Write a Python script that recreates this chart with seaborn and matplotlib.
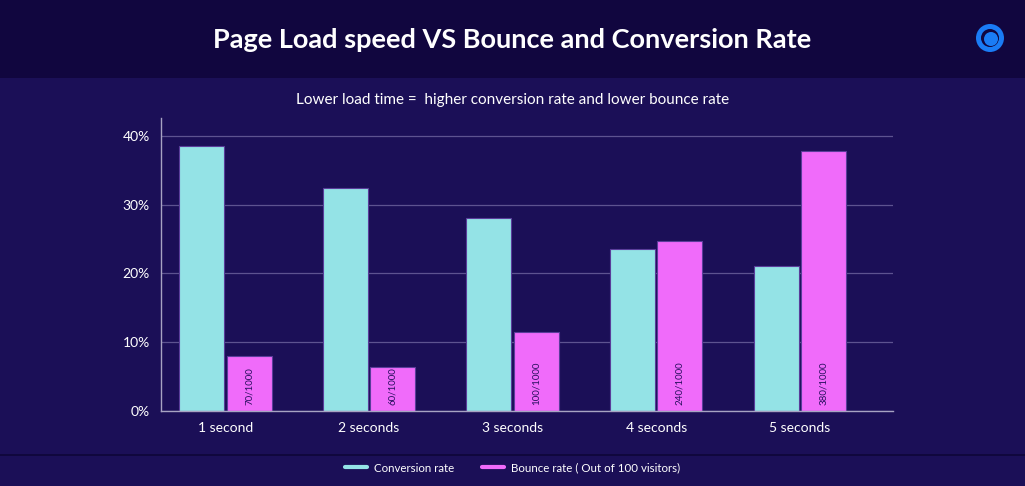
import matplotlib.pyplot as plt
import matplotlib.patches as mpatches
from matplotlib.ticker import PercentFormatter
import pandas as pd
import seaborn as sns

categories = ["1 second", "2 seconds", "3 seconds", "4 seconds", "5 seconds"]
conversion = [38.5, 32.4, 28.1, 23.6, 21.1]
bounce = [8.0, 6.4, 11.5, 24.7, 37.8]
bounce_labels = ["70/1000", "60/1000", "100/1000", "240/1000", "380/1000"]
series = ["Conversion rate", "Bounce rate ( Out of 100 visitors)"]

BG = "#1b0f57"
HEADER = "#11063f"
colors = ["#94e3e6", "#f06bfa"]

df = pd.DataFrame({
    "speed": categories * 2,
    "rate": conversion + bounce,
    "series": [series[0]] * 5 + [series[1]] * 5,
})

sns.set_style("dark")
plt.rcParams["font.family"] = ["Lato", "DejaVu Sans"]

fig = plt.figure(figsize=(10.25, 4.86), dpi=100, facecolor=BG)
ax = fig.add_axes([161 / 1025, (486 - 411) / 486, (893 - 161) / 1025, 293 / 486])
ax.set_facecolor(BG)

# header band
fig.patches.append(mpatches.Rectangle((0, 1 - 78 / 486), 1, 78 / 486, transform=fig.transFigure,
                                      facecolor=HEADER, edgecolor="none", zorder=0))
fig.text(0.5, 1 - 40 / 486, "Page Load speed VS Bounce and Conversion Rate", color="white",
         fontsize=19.5, ha="center", va="center", fontweight="bold")
fig.text(0.5, 1 - 100 / 486, "Lower load time =  higher conversion rate and lower bounce rate",
         color="white", fontsize=11, ha="center", va="center")

# logo
cx, cy = 990 / 1025, 1 - 38 / 486
fig.patches.append(mpatches.Ellipse((cx, cy), 28 / 1025, 28 / 486, transform=fig.transFigure,
                                    facecolor="#1a7cf5", edgecolor="none"))
fig.patches.append(mpatches.Ellipse((cx, cy), 18 / 1025, 18 / 486, transform=fig.transFigure,
                                    facecolor=HEADER, edgecolor="none"))
fig.patches.append(mpatches.Ellipse((cx + 1 / 1025, cy - 1 / 486), 14 / 1025, 14 / 486,
                                    transform=fig.transFigure, facecolor="#1a7cf5", edgecolor="none"))

# separator above legend
fig.add_artist(plt.Line2D([0, 1], [1 - 455 / 486] * 2, color="#0e0638", lw=1.2))

sns.barplot(data=df, x="speed", y="rate", hue="series", palette=colors, ax=ax, saturation=1,
            width=0.66, gap=0.05, edgecolor="#5a3d9a", linewidth=0.8, legend=False)

for bar, lab in zip(ax.patches[5:10], bounce_labels):
    ax.text(bar.get_x() + bar.get_width() / 2, 0.8, lab, rotation=90, ha="center", va="bottom",
            fontsize=7, color="#2a1060")

ax.set_ylim(0, 42.6)
ax.set_xlim(-0.45, 4.65)
ax.set_yticks([0, 10, 20, 30, 40])
ax.yaxis.set_major_formatter(PercentFormatter(decimals=0))
ax.grid(axis="y", color="#5d5390", lw=0.9)
ax.grid(axis="x", visible=False)
ax.set_axisbelow(True)
ax.tick_params(axis="both", colors="white", labelsize=10, length=0, pad=8)
ax.set_xlabel("")
ax.set_ylabel("")
for s in ["top", "right"]:
    ax.spines[s].set_visible(False)
for s in ["left", "bottom"]:
    ax.spines[s].set_visible(True)
    ax.spines[s].set_color("#a7a3c2")
    ax.spines[s].set_linewidth(1)

handles = [plt.Line2D([], [], color=c, lw=3) for c in colors]
fig.legend(handles, series, loc="center", bbox_to_anchor=(0.5, 1 - 468 / 486), ncol=2,
           frameon=False, fontsize=8.3, labelcolor="white", handlelength=1.9, handletextpad=0.6,
           columnspacing=2.4)

fig.savefig("out.png", dpi=100, facecolor=BG)
